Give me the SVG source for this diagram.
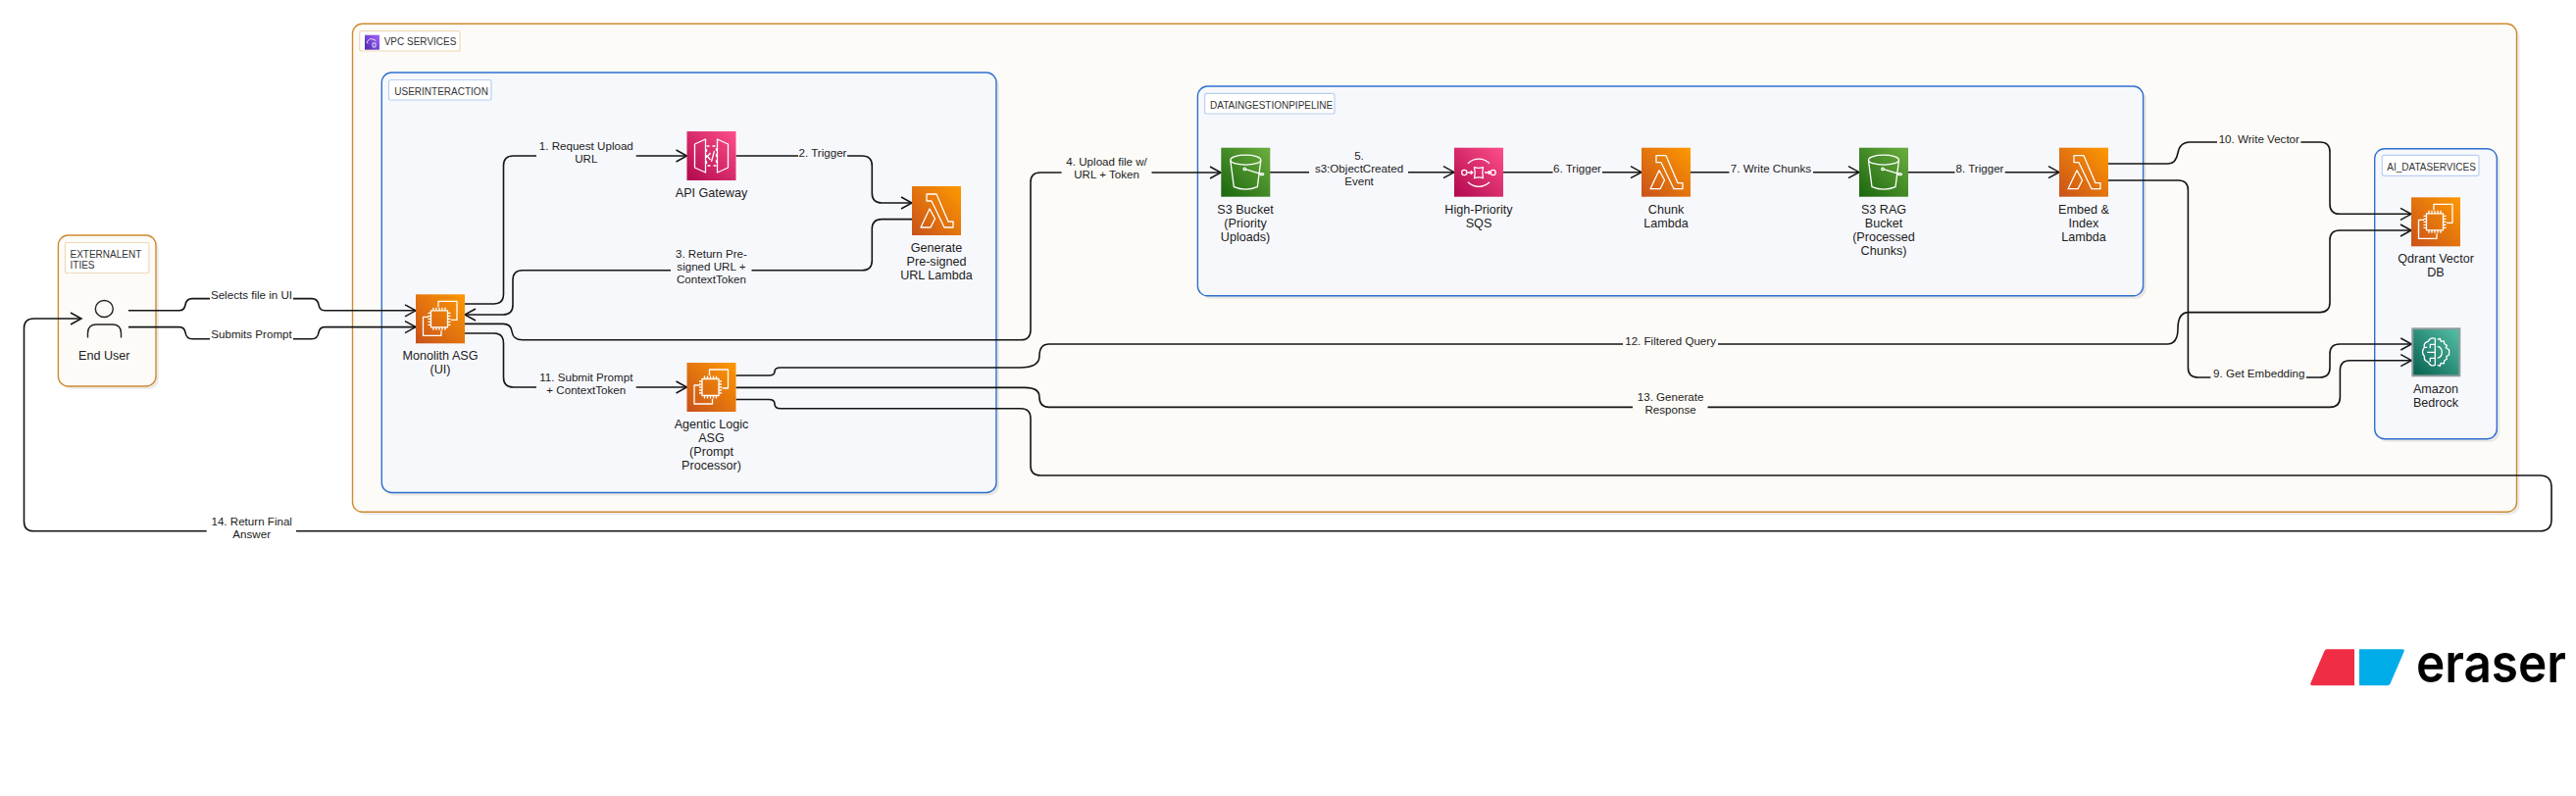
<svg xmlns="http://www.w3.org/2000/svg" width="2627" height="812" viewBox="0 0 2627 812">
<style>
text{font-family:"Liberation Sans",Arial,sans-serif;fill:#1c1c1c}
.nt{font-size:12.6px;text-anchor:middle}
.et{font-size:11.6px;text-anchor:middle}
.gt{font-size:10px;fill:#333}
.edge{fill:none;stroke:#151515;stroke-width:1.6}
.arr{marker-end:url(#arrow)}
.shadow{fill:#000;fill-opacity:.08}
.orange{fill:#fcfbf7;stroke:#cf8a30;stroke-width:1.4}
.blue{fill:#f7f8fc;stroke:#2f6fd0;stroke-width:1.4}
.lbo{fill:#fff;stroke:#efd9b8;stroke-width:1.2}
.lbb{fill:#fff;stroke:#b9cff0;stroke-width:1.2}
.gw{fill:#fff}.gc{fill:#fcfbf7}.gb{fill:#f7f8fc}
.ic{fill:none;stroke:#fff;stroke-width:1.3;stroke-linejoin:round}
</style>
<defs>
<marker id="arrow" markerUnits="userSpaceOnUse" markerWidth="14" markerHeight="16" refX="12" refY="7" orient="auto"><path d="M1 1 L12 7 L1 13" fill="none" stroke="#151515" stroke-width="1.5"/></marker>
<linearGradient id="go" x1="0" y1="1" x2="1" y2="0"><stop offset="0" stop-color="#C8511B"/><stop offset="1" stop-color="#FF9900"/></linearGradient>
<linearGradient id="gp" x1="0" y1="1" x2="1" y2="0"><stop offset="0" stop-color="#B0084D"/><stop offset="1" stop-color="#FF4F8B"/></linearGradient>
<linearGradient id="gg" x1="0" y1="1" x2="1" y2="0"><stop offset="0" stop-color="#1B660F"/><stop offset="1" stop-color="#6CAE3E"/></linearGradient>
<linearGradient id="gv" x1="0" y1="1" x2="1" y2="0"><stop offset="0" stop-color="#4D27A8"/><stop offset="1" stop-color="#A166FF"/></linearGradient>
<linearGradient id="gt" x1="0" y1="1" x2="1" y2="0"><stop offset="0" stop-color="#055F4E"/><stop offset="1" stop-color="#56C0A7"/></linearGradient>
<symbol id="ec2" viewBox="0 0 50 50" overflow="visible">
<rect width="50" height="50" fill="url(#go)"/>
<path class="ic" d="M23 13V7H42V26H36M13 23H7.500V42H26V37"/>
<rect class="ic" x="15.500" y="16.500" width="17" height="17"/>
<path class="ic" d="M18 13.500v3M21 13.500v3M24 13.500v3M27 13.500v3M30 13.500v3M18 33.500v3M21 33.500v3M24 33.500v3M27 33.500v3M30 33.500v3M12.500 19h3M12.500 22h3M12.500 25h3M12.500 28h3M12.500 31h3M32.500 19h3M32.500 22h3M32.500 25h3M32.500 28h3M32.500 31h3"/>
</symbol>
<symbol id="lambda" viewBox="0 0 50 50" overflow="visible">
<rect width="50" height="50" fill="url(#go)"/>
<path class="ic" d="M15 8H25L37 36H42V42H33L20 15H15ZM18 23L9 42H19L23.500 33Z"/>
</symbol>
<symbol id="s3" viewBox="0 0 50 50" overflow="visible">
<rect width="50" height="50" fill="url(#gg)"/>
<ellipse class="ic" cx="25" cy="12.500" rx="15.500" ry="5"/>
<path class="ic" d="M9.500 13L13 40Q25 45 37 40L40.500 13M25 22L41 27"/>
<circle class="ic" cx="24" cy="21.700" r="1.200"/>
<ellipse class="ic" cx="41.500" cy="27" rx="2" ry="1"/>
</symbol>
<symbol id="apigw" viewBox="0 0 50 50" overflow="visible">
<rect width="50" height="50" fill="url(#gp)"/>
<path class="ic" d="M19 8L8 13V37L19 42ZM31 8L42 13V37L31 42Z"/>
<path class="ic" stroke-dasharray="3 3" d="M20 15H30V35H20Z"/>
<path class="ic" d="M24 22L21 25.500L24 29M28 20L25 31"/>
</symbol>
<symbol id="sqs" viewBox="0 0 50 50" overflow="visible">
<rect width="50" height="50" fill="url(#gp)"/>
<path class="ic" d="M14 16A15.500 15.500 0 0 1 36 16M14 35A15.500 15.500 0 0 0 36 35"/>
<circle class="ic" cx="10.300" cy="25.300" r="2.600"/><circle class="ic" cx="39.700" cy="25.300" r="2.600"/>
<path class="ic" d="M20.500 20Q25 21.500 29.500 20Q28 25.500 29.500 31Q25 29.500 20.500 31Q22 25.500 20.500 20ZM13.500 25.300H18.500M16.800 23.500L18.800 25.300L16.800 27M31 25.300H36.500M34.800 23.500L36.800 25.300L34.800 27"/>
</symbol>
<symbol id="bedrock" viewBox="0 0 50 50" overflow="visible">
<rect x="1" y="1" width="48" height="48" fill="url(#gt)" stroke="#8c9a9c" stroke-width="2"/>
<path class="ic" stroke-width="1" d="M24 11Q19 9.500 17 14Q12 15 13 20Q9.500 25 13 29Q12.500 34 17 35Q19 40 24 38ZM24 17H19V21M24 25H16M24 31H19V35M13 20H16"/>
<path class="ic" stroke-width="1" d="M26.500 12L29 11L30 14L33 13.500L33.500 16.500L36 18L35 20.500L38.300 22.500V27.500L35.500 29.500L36 32L33.500 33.500L33 36.500L30 36L29 39L26.500 38M26.500 19Q31 20 31 25Q31 30 26.500 31"/>
</symbol>
</defs>

<g id="containers">
<g id="vpc-services">
<rect class="shadow" x="362.500" y="27.300" width="2207" height="498" rx="10"/>
<rect class="orange" x="359.500" y="24.300" width="2207" height="498" rx="10"/>
<rect class="lbo" x="366.700" y="31.700" width="102.300" height="20.300" rx="2"/>
<rect x="372" y="35.700" width="15" height="15" fill="url(#gv)"/>
<path d="M375 44.500Q373 42 376 41Q377 38.500 380 40Q383 40 383 42M380 44h3v4h-3z" fill="none" stroke="#fff" stroke-width=".8"/>
<text class="gt" x="391.700" y="46.300">VPC SERVICES</text>
</g>
<g id="userinteraction">
<rect class="shadow" x="392.300" y="77" width="626.700" height="428.500" rx="10"/>
<rect class="blue" x="389.300" y="74" width="626.700" height="428.500" rx="10"/>
<rect class="lbb" x="396.500" y="81.500" width="104.500" height="20.500" rx="2"/>
<text class="gt" x="402.300" y="96.600">USERINTERACTION</text>
</g>
<g id="dataingestionpipeline">
<rect class="shadow" x="1224.400" y="91" width="964.200" height="213.800" rx="10"/>
<rect class="blue" x="1221.400" y="88" width="964.200" height="213.800" rx="10"/>
<rect class="lbb" x="1228.600" y="95.400" width="132.400" height="20.600" rx="2"/>
<text class="gt" x="1234" y="110.600">DATAINGESTIONPIPELINE</text>
</g>
<g id="ai-dataservices">
<rect class="shadow" x="2424.700" y="154.700" width="124.600" height="296" rx="10"/>
<rect class="blue" x="2421.700" y="151.700" width="124.600" height="296" rx="10"/>
<rect class="lbb" x="2429.300" y="158.300" width="98.700" height="21" rx="2"/>
<text class="gt" x="2434.300" y="173.600">AI_DATASERVICES</text>
</g>
<g id="externalentities">
<rect class="shadow" x="62.400" y="243" width="99.600" height="154" rx="10"/>
<rect class="orange" x="59.400" y="240" width="99.600" height="154" rx="10"/>
<rect class="lbo" x="66.500" y="247.500" width="85.500" height="31" rx="2"/>
<text class="gt" x="71.500" y="262.600">EXTERNALENT</text>
<text class="gt" x="71.500" y="273.600">ITIES</text>
</g>
</g>

<g id="connectors">
<path class="edge arr" d="M131 316.800H183Q188 316.800 189 311Q190 304.600 196 304.600H318Q324 304.600 325 311Q326 316.800 331 316.800H424"/>
<path class="edge arr" d="M131 333.600H183Q188 333.600 189 339Q190 345.700 196 345.700H318Q324 345.700 325 339Q326 333.600 331 333.600H424"/>
<path class="edge arr" d="M474 310H503.500Q513.500 310 513.500 300V169Q513.500 159 523.500 159H700.500"/>
<path class="edge arr" d="M750.500 159H879Q889.300 159 889.300 169V197Q889.300 207 899.300 207H930"/>
<path class="edge arr" d="M930 223.600H899.300Q889.300 223.600 889.300 233.600V265.700Q889.300 275.700 879.300 275.700H533Q523 275.700 523 285.700V311Q523 321 513 321H474"/>
<path class="edge arr" d="M474 330.400H513Q521 330.400 522 338Q523 346.800 533 346.800H1041Q1051 346.800 1051 336.800V186Q1051 176 1061 176H1245"/>
<path class="edge arr" d="M1295 175.700H1483"/>
<path class="edge arr" d="M1533 175.700H1674"/>
<path class="edge arr" d="M1724 175.700H1896"/>
<path class="edge arr" d="M1946 175.700H2100"/>
<path class="edge arr" d="M2150 184H2221.400Q2231.400 184 2231.400 194V375Q2231.400 385 2241.400 385H2366Q2376 385 2376 375V361Q2376 351 2386 351H2459.300"/>
<path class="edge arr" d="M2150 167H2211Q2219 167 2221 156Q2223 145 2233 145H2366Q2376 145 2376 155V208.300Q2376 218.300 2386 218.300H2459"/>
<path class="edge arr" d="M474 340H503.500Q513.500 340 513.500 350V385Q513.500 395 523.500 395H700.500"/>
<path class="edge arr" d="M750.500 383H784Q790 383 790 379Q790 375 796 375H1040Q1060 375 1060 363Q1060 351 1070 351H2210Q2221 351 2221 335Q2221 318.600 2232 318.600H2366Q2376 318.600 2376 308.600V245Q2376 235 2386 235H2459"/>
<path class="edge arr" d="M750.500 395.400H1045Q1060 395.400 1060 405Q1060 415.400 1070 415.400H2376Q2386.400 415.400 2386.400 405V377.700Q2386.400 367.700 2396.400 367.700H2459.300"/>
<path class="edge arr" d="M750.500 407.500H784Q790 407.500 790 412Q790 416.800 796 416.800H1041Q1051 416.800 1051 427V475Q1051 485 1061 485H2590Q2602 485 2602 497V530Q2602 541.800 2590 541.800H34.500Q24.500 541.800 24.500 532V335Q24.500 325 34.500 325H83"/>
</g>

<g id="edge-labels">
<g id="l-selects"><rect class="gw" x="214" y="296" width="85" height="16"/><text class="et" x="256.500" y="305">Selects file in UI</text></g>
<g id="l-submits"><rect class="gw" x="214" y="337" width="85" height="16"/><text class="et" x="256.500" y="345">Submits Prompt</text></g>
<g id="l-1"><rect class="gb" x="547" y="142" width="101.700" height="26"/><text class="et" x="597.800" y="153">1. Request Upload</text><text class="et" x="597.800" y="166">URL</text></g>
<g id="l-2"><rect class="gb" x="814" y="150" width="50" height="16"/><text class="et" x="839" y="159.500">2. Trigger</text></g>
<g id="l-3"><rect class="gb" x="684" y="252" width="82.500" height="39"/><text class="et" x="725.400" y="263">3. Return Pre-</text><text class="et" x="725.400" y="276">signed URL +</text><text class="et" x="725.400" y="289">ContextToken</text></g>
<g id="l-4"><rect class="gc" x="1082.600" y="159" width="91.900" height="26"/><text class="et" x="1128.600" y="169.300">4. Upload file w/</text><text class="et" x="1128.600" y="182.300">URL + Token</text></g>
<g id="l-5"><rect class="gb" x="1335" y="152" width="101" height="39"/><text class="et" x="1386" y="163">5.</text><text class="et" x="1386" y="176">s3:ObjectCreated</text><text class="et" x="1386" y="189">Event</text></g>
<g id="l-6"><rect class="gb" x="1583.500" y="166" width="50.500" height="16"/><text class="et" x="1608.500" y="176">6. Trigger</text></g>
<g id="l-7"><rect class="gb" x="1763.400" y="166" width="85.600" height="16"/><text class="et" x="1806" y="176">7. Write Chunks</text></g>
<g id="l-8"><rect class="gb" x="1993.500" y="166" width="51.200" height="16"/><text class="et" x="2019" y="176">8. Trigger</text></g>
<g id="l-9"><rect class="gc" x="2254.400" y="375" width="97.600" height="16"/><text class="et" x="2303.800" y="385.300">9. Get Embedding</text></g>
<g id="l-10"><rect class="gc" x="2261" y="135" width="85.400" height="16"/><text class="et" x="2303.800" y="145.700">10. Write Vector</text></g>
<g id="l-11"><rect class="gb" x="547" y="379" width="101.700" height="26"/><text class="et" x="597.800" y="389.300">11. Submit Prompt</text><text class="et" x="597.800" y="402.300">+ ContextToken</text></g>
<g id="l-12"><rect class="gc" x="1655" y="342" width="97" height="16"/><text class="et" x="1703.600" y="351.800">12. Filtered Query</text></g>
<g id="l-13"><rect class="gc" x="1665" y="399" width="76.500" height="26"/><text class="et" x="1703.600" y="409.300">13. Generate</text><text class="et" x="1703.600" y="422.300">Response</text></g>
<g id="l-14"><rect class="gw" x="210.700" y="526" width="91.300" height="26"/><text class="et" x="256.700" y="536.300">14. Return Final</text><text class="et" x="256.700" y="549">Answer</text></g>
</g>

<g id="end-user"><ellipse cx="106.300" cy="315" rx="9" ry="8.500" fill="none" stroke="#222" stroke-width="1.4"/><path d="M89.500 344.500V340Q89.500 331 98.500 331H114.500Q123.500 331 123.500 340V344.500" fill="none" stroke="#222" stroke-width="1.400"/><text class="nt" x="106.300" y="367">End User</text></g>
<g id="monolith-asg"><use href="#ec2" x="424" y="300.300" width="50" height="50"/><text class="nt" x="449" y="367">Monolith ASG</text><text class="nt" x="449" y="381.300">(UI)</text></g>
<g id="api-gateway"><use href="#apigw" x="700.500" y="134" width="50" height="50"/><text class="nt" x="725.500" y="201.300">API Gateway</text></g>
<g id="generate-lambda"><use href="#lambda" x="930" y="190" width="50" height="50"/><text class="nt" x="955" y="257.300">Generate</text><text class="nt" x="955" y="271.300">Pre-signed</text><text class="nt" x="955" y="285.300">URL Lambda</text></g>
<g id="agentic-asg"><use href="#ec2" x="700.500" y="370" width="50" height="50"/><text class="nt" x="725.500" y="437.300">Agentic Logic</text><text class="nt" x="725.500" y="451.300">ASG</text><text class="nt" x="725.500" y="465.300">(Prompt</text><text class="nt" x="725.500" y="479.300">Processor)</text></g>
<g id="s3-priority"><use href="#s3" x="1245.300" y="150.700" width="50" height="50"/><text class="nt" x="1270" y="217.600">S3 Bucket</text><text class="nt" x="1270" y="231.600">(Priority</text><text class="nt" x="1270" y="245.600">Uploads)</text></g>
<g id="sqs-node"><use href="#sqs" x="1483" y="150.700" width="50" height="50"/><text class="nt" x="1508" y="217.600">High-Priority</text><text class="nt" x="1508" y="231.600">SQS</text></g>
<g id="chunk-lambda"><use href="#lambda" x="1674" y="150.700" width="50" height="50"/><text class="nt" x="1699" y="217.600">Chunk</text><text class="nt" x="1699" y="231.600">Lambda</text></g>
<g id="s3-rag"><use href="#s3" x="1896" y="150.700" width="50" height="50"/><text class="nt" x="1921" y="217.600">S3 RAG</text><text class="nt" x="1921" y="231.600">Bucket</text><text class="nt" x="1921" y="245.600">(Processed</text><text class="nt" x="1921" y="259.600">Chunks)</text></g>
<g id="embed-lambda"><use href="#lambda" x="2100" y="150.700" width="50" height="50"/><text class="nt" x="2125" y="217.600">Embed &amp;</text><text class="nt" x="2125" y="231.600">Index</text><text class="nt" x="2125" y="245.600">Lambda</text></g>
<g id="qdrant"><use href="#ec2" x="2459" y="201.300" width="50" height="50"/><text class="nt" x="2484" y="268.300">Qdrant Vector</text><text class="nt" x="2484" y="282.300">DB</text></g>
<g id="bedrock-node"><use href="#bedrock" x="2459.300" y="334.300" width="50" height="50"/><text class="nt" x="2484" y="401.300">Amazon</text><text class="nt" x="2484" y="415.300">Bedrock</text></g>

<g id="eraser-logo">
<path d="M2373 662.300H2401V699.300H2358Q2355.500 699.300 2356.500 696.500L2370.500 664Q2371.300 662.300 2373 662.300Z" fill="#EF2D45"/>
<path d="M2406 662.300H2450Q2452.500 662.300 2451.500 665L2437.500 697.500Q2436.700 699.300 2435 699.300H2406Z" fill="#00ADE8"/>
<text transform="translate(2464 696) scale(.9 1)" font-size="55" font-weight="600" style="font-family:Inter,'Liberation Sans',sans-serif;fill:#000">eraser</text>
</g>
</svg>
